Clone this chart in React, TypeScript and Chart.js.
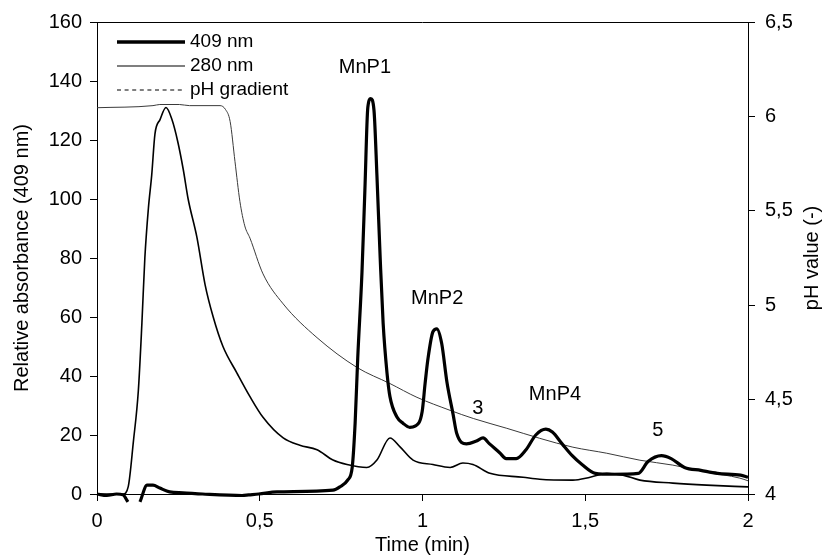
import React, { useEffect, useRef } from "react";
import { Chart, registerables } from "chart.js";

Chart.register(...registerables);

const FONT = "'Liberation Sans', Arial, Helvetica, sans-serif";

// Axis tick labels
const xTickValues = [0, 0.5, 1, 1.5, 2];
const xTickLabels = ["0", "0,5", "1", "1,5", "2"];
const phTickValues = [4, 4.5, 5, 5.5, 6, 6.5];
const phTickLabels = ["4", "4,5", "5", "5,5", "6", "6,5"];

// Series names
const seriesNames = ["409 nm", "280 nm", "pH gradient"];

// 409 nm absorbance (null = gap in the trace)
const time409 = [
  0, 0.03, 0.06, 0.08, 0.095, 0.11, 0.132, 0.154, 0.172, 0.193, 0.223, 0.264,
  0.324, 0.446, 0.466, 0.497, 0.553, 0.725, 0.746, 0.77, 0.784, 0.793, 0.801,
  0.814, 0.823, 0.832, 0.841, 0.851, 0.86, 0.87, 0.879, 0.891, 0.9, 0.922,
  0.94, 0.961, 0.977, 0.999, 1.008, 1.017, 1.032, 1.044, 1.059, 1.075, 1.094,
  1.105, 1.135, 1.166, 1.186, 1.206, 1.237, 1.257, 1.288, 1.318, 1.348, 1.379,
  1.399, 1.429, 1.46, 1.49, 1.531, 1.582, 1.663, 1.693, 1.734, 1.764, 1.805,
  1.855, 1.906, 1.977, 2.0,
];
const abs409: (number | null)[] = [
  0, -0.5, 0, -0.3, -2.7, null, -2.7, 3, 3, 2, 0.7, 0.4,
  0, -0.5, -0.3, 0, 0.7, 1.3, 2.4, 4.7, 9, 24, 46,
  75, 103, 131, 134, 130, 108, 80, 58, 41, 33, 26,
  24, 22.6, 23, 28, 37.5, 46, 55, 56, 51, 38, 27,
  20.6, 17, 18, 19, 17, 14, 12, 12, 15, 20, 22,
  21, 17, 13, 10, 7, 6.7, 7, 11, 13, 12, 9,
  8, 7, 6.4, 5.7,
];

// 280 nm absorbance
const time280 = [
  0, 0.08, 0.096, 0.112, 0.127, 0.138, 0.147, 0.158, 0.168, 0.178, 0.194,
  0.212, 0.23, 0.248, 0.265, 0.28, 0.307, 0.332, 0.357, 0.387, 0.43, 0.47,
  0.51, 0.572, 0.623, 0.676, 0.725, 0.768, 0.829, 0.86, 0.9, 0.931, 0.971,
  1.032, 1.085, 1.124, 1.155, 1.207, 1.309, 1.36, 1.462, 1.515, 1.566, 1.616,
  1.668, 1.769, 1.873, 2.0,
];
const abs280 = [
  0, 0, 2.5, 18, 35, 58, 80, 97, 108, 122, 127,
  131, 127, 119.5, 110, 100, 87, 71, 60, 50, 41, 33,
  26, 19, 16.5, 15, 11.5, 10, 9, 11.5, 19, 16, 11.5,
  10, 9, 10.5, 10, 7, 5.7, 5, 4.7, 5.7, 7, 6.4,
  4.7, 3.7, 3, 2.4,
];

// pH gradient (right axis)
const timePh = [
  0, 0.172, 0.193, 0.253, 0.284, 0.378, 0.395, 0.409, 0.424, 0.439, 0.454,
  0.47, 0.51, 0.572, 0.676, 0.799, 0.9, 0.983, 1.085, 1.156, 1.259, 1.36,
  1.462, 1.566, 1.668, 1.769, 1.873, 1.975, 2.0,
];
const phValues = [
  6.046, 6.057, 6.063, 6.063, 6.057, 6.057, 6.036, 5.973, 5.76, 5.55, 5.42,
  5.355, 5.166, 5.007, 4.828, 4.67, 4.585, 4.512, 4.443, 4.4, 4.348, 4.295,
  4.248, 4.216, 4.179, 4.153, 4.116, 4.084, 4.07,
];

// Peak annotations
const peakLabels = ["MnP1", "MnP2", "3", "MnP4", "5"];
const peakTime = [0.823, 1.045, 1.17, 1.407, 1.723];
const peakAbs = [144.5, 66.3, 29.1, 33.8, 21.7];

const toPoints = (xs: number[], ys: (number | null)[]) =>
  xs.map((x, i) => ({ x, y: ys[i] }));

const overlayPlugin = {
  id: "overlay",
  afterDraw(chart: any) {
    const { ctx, chartArea, scales } = chart;
    const { left, top, right, bottom } = chartArea;
    ctx.save();
    // top frame line
    ctx.strokeStyle = "#000";
    ctx.lineWidth = 1;
    ctx.setLineDash([]);
    ctx.beginPath();
    ctx.moveTo(left, top + 0.5);
    ctx.lineTo(right, top + 0.5);
    ctx.stroke();

    // peak labels
    ctx.fillStyle = "#000";
    ctx.font = `20px ${FONT}`;
    ctx.textAlign = "center";
    ctx.textBaseline = "middle";
    peakLabels.forEach((lab, i) => {
      const px = scales.x.getPixelForValue(peakTime[i]);
      const py = scales.y.getPixelForValue(peakAbs[i]);
      ctx.fillText(lab, px, py);
    });

    // legend
    const ds = chart.data.datasets;
    ctx.font = `19px ${FONT}`;
    ctx.textAlign = "left";
    const rows = [20, 44, 68];
    ds.forEach((d: any, i: number) => {
      const y = top + rows[i];
      ctx.beginPath();
      ctx.lineWidth = i === 0 ? 3.5 : 1.2;
      ctx.strokeStyle = "#000";
      ctx.setLineDash(i === 2 ? [4, 3.6] : []);
      ctx.moveTo(left + 20, y);
      ctx.lineTo(left + 88, y);
      ctx.stroke();
      ctx.setLineDash([]);
      ctx.fillText(d.label, left + 93, y);
    });

    // right axis title (reads bottom-to-top)
    ctx.save();
    ctx.translate(812, (top + bottom) / 2);
    ctx.rotate(-Math.PI / 2);
    ctx.textAlign = "center";
    ctx.textBaseline = "middle";
    ctx.font = `20px ${FONT}`;
    ctx.fillText("pH value (-)", 0, 0);
    ctx.restore();

    ctx.restore();
  },
};

export default function App() {
  const ref = useRef<HTMLCanvasElement | null>(null);

  useEffect(() => {
    document.body.style.margin = "0";
    const canvas = ref.current;
    if (!canvas) return;
    const tickFont = { family: FONT, size: 20 };
    const axisGrid = {
      drawOnChartArea: false,
      drawTicks: true,
      tickLength: 7,
      color: "#000",
      tickColor: "#000",
      tickWidth: 1,
    };
    const chart = new Chart(canvas, {
      type: "line",
      data: {
        datasets: [
          {
            label: seriesNames[0],
            data: toPoints(time409, abs409),
            borderColor: "#000",
            borderWidth: 3.2,
            pointRadius: 0,
            cubicInterpolationMode: "monotone",
            spanGaps: false,
            yAxisID: "y",
            clip: 10,
          },
          {
            label: seriesNames[1],
            data: toPoints(time280, abs280),
            borderColor: "#000",
            borderWidth: 1.6,
            pointRadius: 0,
            cubicInterpolationMode: "monotone",
            yAxisID: "y",
          },
          {
            label: seriesNames[2],
            data: toPoints(timePh, phValues),
            borderColor: "#3a3a3a",
            borderWidth: 1,
            pointRadius: 0,
            cubicInterpolationMode: "monotone",
            yAxisID: "y2",
          },
        ],
      },
      options: {
        responsive: false,
        animation: false,
        devicePixelRatio: 1,
        layout: { padding: { top: 21, left: 0, right: 0, bottom: 0 } },
        plugins: {
          legend: { display: false },
          tooltip: { enabled: false },
        },
        scales: {
          x: {
            type: "linear",
            position: "bottom",
            min: 0,
            max: 2,
            grid: axisGrid,
            border: { display: true, color: "#000", width: 1 },
            ticks: {
              stepSize: 0.5,
              color: "#000",
              font: tickFont,
              padding: 8,
              maxRotation: 0,
              autoSkip: false,
              callback: (v: any) => {
                const i = xTickValues.findIndex((t) => Math.abs(t - v) < 1e-6);
                return i >= 0 ? xTickLabels[i] : "";
              },
            },
            title: {
              display: true,
              text: "Time (min)",
              color: "#000",
              font: { family: FONT, size: 20 },
              padding: { top: 0, bottom: 1 },
            },
            afterFit: (s: any) => {
              s.height = 64;
            },
          },
          y: {
            type: "linear",
            position: "left",
            min: 0,
            max: 160,
            grid: axisGrid,
            border: { display: true, color: "#000", width: 1 },
            ticks: { stepSize: 20, color: "#000", font: tickFont, padding: 8 },
            title: {
              display: true,
              text: "Relative absorbance (409 nm)",
              color: "#000",
              font: { family: FONT, size: 20 },
              padding: { top: 10, bottom: 0 },
            },
            afterFit: (s: any) => {
              s.width = 97;
            },
          },
          y2: {
            type: "linear",
            position: "right",
            min: 4,
            max: 6.5,
            grid: axisGrid,
            border: { display: true, color: "#000", width: 1 },
            ticks: {
              stepSize: 0.5,
              color: "#000",
              font: tickFont,
              padding: 10,
              callback: (v: any) => {
                const i = phTickValues.findIndex((t) => Math.abs(t - v) < 1e-6);
                return i >= 0 ? phTickLabels[i] : "";
              },
            },
            afterFit: (s: any) => {
              s.width = 77;
            },
          },
        },
      } as any,
      plugins: [overlayPlugin],
    });
    return () => chart.destroy();
  }, []);

  return (
    <div style={{ position: "absolute", left: 0, top: 0, width: 825, height: 558 }}>
      <canvas ref={ref} width={825} height={558} style={{ width: 825, height: 558 }} />
    </div>
  );
}
